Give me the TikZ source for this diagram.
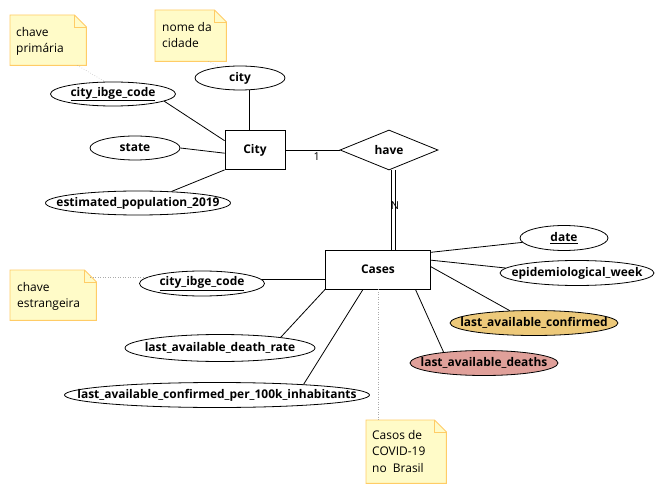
\documentclass[tikz,border=0pt]{standalone}
\usepackage{fontspec}
\setmainfont{Open Sans}
\usetikzlibrary{shapes.geometric}

\definecolor{notefill}{HTML}{FFFBC8}
\definecolor{noteedge}{HTML}{FFCC66}
\definecolor{confirmedfill}{HTML}{EDC97A}
\definecolor{deathsfill}{HTML}{E0A09A}
\definecolor{hintline}{HTML}{AAAAAA}

% attribute text does not widen the ellipse; its size is set explicitly
\newcommand\attrlabel[1]{\makebox[0pt][c]{#1}}

\tikzset{
  attr/.style={ellipse, draw, line width=0.8bp, inner sep=0pt, minimum height=24bp,
    font=\fontsize{12}{14}\selectfont\bfseries},
  entity/.style={rectangle, draw, line width=0.8bp, inner sep=0pt,
    font=\fontsize{12}{14}\selectfont\bfseries},
  relation/.style={diamond, draw, line width=0.8bp, inner sep=0pt,
    font=\fontsize{12}{14}\selectfont\bfseries},
  link/.style={line width=0.8bp},
  hint/.style={draw=hintline, line width=0.5bp, dotted},
  notebox/.style={rectangle, inner sep=0pt, anchor=north west},
  notebody/.style={fill=notefill, draw=noteedge, line width=0.9bp},
  notetext/.style={anchor=north west, inner sep=0pt, align=left,
    font=\fontsize{12}{16.5}\selectfont},
  cardinality/.style={inner sep=0pt, font=\fontsize{11}{12}\selectfont},
}

% sticky note with a folded top-right corner
\newcommand\notesheet[1]{%
  \filldraw[notebody] (#1.north west) -- ([xshift=-12bp]#1.north east)
    -- ([yshift=-12bp]#1.north east) -- (#1.south east) -- (#1.south west) -- cycle;
  \draw[notebody, fill=none] ([xshift=-12bp]#1.north east) |- ([yshift=-12bp]#1.north east);
}

\begin{document}
\begin{tikzpicture}[x=1bp, y=-1bp]
  \fill[white] (0,0) rectangle (664,493);
  \useasboundingbox (0,0) rectangle (664,493);

  % notes
  \node[notebox, minimum width=76bp, minimum height=50bp] (n1) at (10,15) {};
  \node[notebox, minimum width=71bp, minimum height=51bp] (n2) at (155,10) {};
  \node[notebox, minimum width=86bp, minimum height=50bp] (n3) at (10,270) {};
  \node[notebox, minimum width=80bp, minimum height=63bp] (n4) at (366,420) {};
  \notesheet{n1}
  \notesheet{n2}
  \notesheet{n3}
  \notesheet{n4}
  \node[notetext] (n1t) at (16,27) {chave\\primária};
  \node[notetext] (n2t) at (162,22) {nome da\\cidade};
  \node[notetext] (n3t) at (17,282) {chave\\estrangeira};
  \node[notetext] (n4t) at (372,430) {Casos de\\COVID-19\\no\ \ Brasil};

  % City entity and its attributes
  \node[entity, minimum width=60bp, minimum height=39bp] (city) at (255,150) {City};
  \node[attr, minimum width=125bp] (cib1) at (113,94) {\attrlabel{\underline{city\_ibge\_code}}};
  \node[attr, minimum width=90bp] (cityname) at (240,78) {\attrlabel{city}};
  \node[attr, minimum width=90bp] (state) at (135,148) {\attrlabel{state}};
  \node[attr, minimum width=185bp] (estpop) at (138,203) {\attrlabel{estimated\_population\_2019}};

  % relationship
  \node[relation, minimum width=98bp, minimum height=40bp] (have) at (389,150) {have};

  % Cases entity and its attributes
  \node[entity, minimum width=105bp, minimum height=39bp] (cases) at (378,269.5) {Cases};
  \node[attr, minimum width=88bp, minimum height=25bp] (date) at (564,238) {\attrlabel{\underline{date}}};
  \node[attr, minimum width=154bp, minimum height=25bp] (epi) at (577,273) {\attrlabel{epidemiological\_week}};
  \node[attr, fill=confirmedfill, minimum width=168bp, minimum height=25bp] (confirmed) at (534,323) {\attrlabel{last\_available\_confirmed}};
  \node[attr, fill=deathsfill, minimum width=148bp, minimum height=25bp] (deaths) at (484,363) {\attrlabel{last\_available\_deaths}};
  \node[attr, minimum width=125bp, minimum height=25bp] (cib2) at (202,283.5) {\attrlabel{\underline{city\_ibge\_code}}};
  \node[attr, minimum width=190bp, minimum height=27bp] (deathrate) at (220,348) {\attrlabel{last\_available\_death\_rate}};
  \node[attr, minimum width=305bp, minimum height=25bp] (per100k) at (217,395) {\attrlabel{last\_available\_confirmed\_per\_100k\_inhabitants}};

  % attribute links of City
  \draw[link] (cib1.-8) -- (city.163);
  \draw[link] ([xshift=-6bp]city.north) -- ([xshift=-6bp]city.north |- cityname.south);
  \draw[link] (state.east) -- (city.186);
  \draw[link] (estpop.19) -- (city.south west);

  % City 1 -- N Cases (total participation: two parallel lines)
  \draw[link] (city.east) -- (have.west)
    node[cardinality, pos=0.58, yshift=-7bp] (one) {1};
  \draw[link] ([xshift=2bp]have.south) -- ([xshift=2bp]have.south |- cases.north);
  \draw[link] ([xshift=6bp]have.south) -- ([xshift=6bp]have.south |- cases.north)
    node[cardinality, pos=0.45] (many) {N};

  % attribute links of Cases
  \draw[link] (date.186) -- (cases.18);
  \draw[link] (epi.176) -- (cases.10);
  \draw[link] (confirmed.153) -- (cases.3);
  \draw[link] (deaths.165) -- (cases.-28);
  \draw[link] (cib2.4) -- (cib2.4 -| cases.west);
  \draw[link] (deathrate.10) -- (cases.south west);
  \draw[link] (per100k.7) -- (cases.233);

  % note pointers
  \draw[hint] ([xshift=-9bp]n1.south east) -- (cib1.123);
  \draw[hint] ([xshift=-18bp]n2.south east) -- (cityname.152);
  \draw[hint] (cib2.173) -- ([xshift=-7bp]cib2.173 -| n3.east);
  \draw[hint] (cases.south) -- (cases.south |- n4.north);
\end{tikzpicture}
\end{document}
